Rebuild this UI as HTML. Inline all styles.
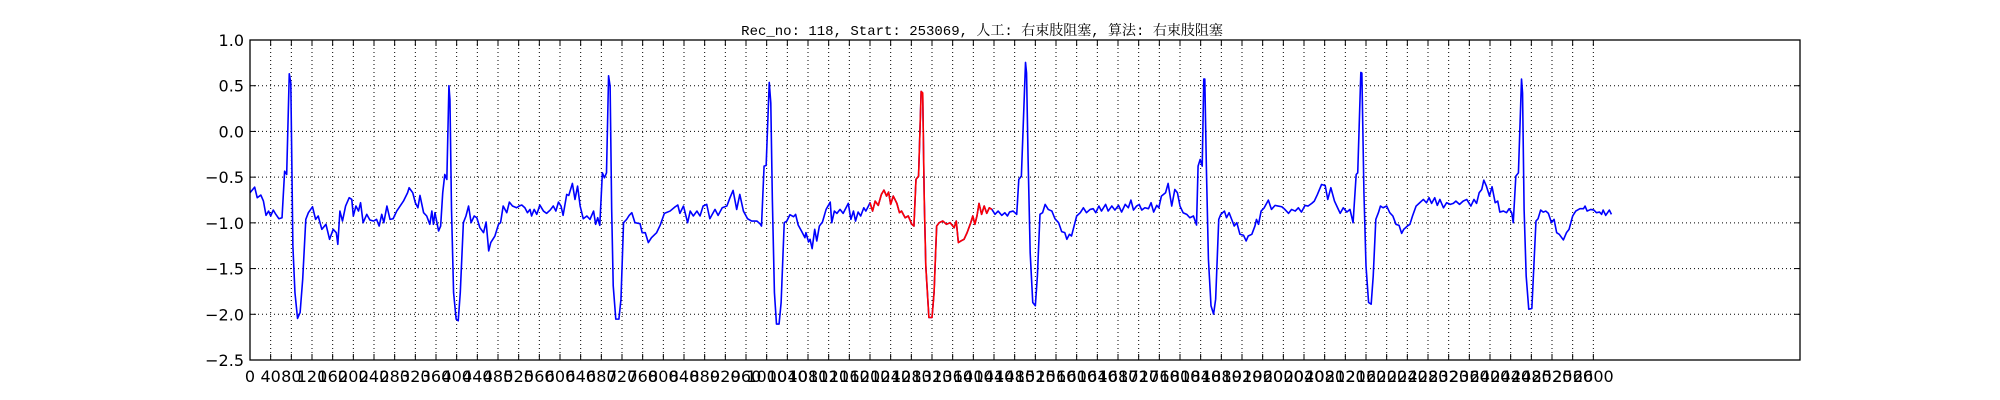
<!DOCTYPE html>
<html><head><meta charset="utf-8">
<style>
html,body{margin:0;padding:0;background:#fff;}
svg{display:block;}
</style></head>
<body>
<svg id="chart" width="2000" height="400" xmlns="http://www.w3.org/2000/svg">
<rect x="0" y="0" width="2000" height="400" fill="#fff"/>
<text x="982" y="35" text-anchor="middle" font-family="'Liberation Mono','Noto Serif CJK SC',monospace" font-size="14" fill="#000">Rec_no: 118, Start: 253069, 人工: 右束肢阻塞, 算法: 右束肢阻塞</text>
<g id="grid"></g>
<g id="series"></g>
<rect x="250" y="40" width="1550" height="320" fill="none" stroke="#000" stroke-width="1.3"/>
<g id="axes"></g>
</svg>
<script>
const sampleIdx = [0,9,14,21,26,31,36,40,45,50,56,62,67,71,76,79,83,87,92,97,102,108,113,121,127,132,139,147,154,161,167,170,174,179,185,192,197,200,205,210,214,219,226,232,239,245,250,255,259,265,271,277,284,297,305,308,315,320,325,329,336,342,348,352,355,358,365,369,373,377,381,385,387,390,394,399,403,407,413,418,423,428,434,439,445,452,457,462,466,474,481,485,490,497,502,508,516,521,526,532,537,542,545,550,555,561,568,574,581,587,592,597,602,606,613,617,624,629,634,639,645,652,658,665,669,673,677,682,686,690,694,697,700,703,708,714,718,723,729,734,739,745,755,759,765,771,777,787,794,802,813,823,828,832,839,847,852,858,865,871,877,884,890,900,906,914,923,929,935,942,948,955,963,971,981,987,990,995,999,1005,1008,1011,1015,1019,1024,1028,1034,1039,1045,1052,1056,1061,1068,1074,1076,1081,1084,1088,1093,1097,1102,1108,1115,1123,1126,1131,1136,1142,1148,1158,1163,1168,1172,1177,1182,1188,1192,1197,1200,1205,1210,1216,1222,1227,1232,1236,1240,1245,1252,1257,1261,1268,1274,1281,1285,1289,1294,1299,1302,1305,1308,1314,1320,1324,1329,1334,1341,1348,1355,1363,1367,1371,1376,1382,1388,1395,1399,1403,1407,1411,1416,1421,1426,1431,1436,1442,1448,1455,1461,1466,1470,1477,1484,1488,1493,1501,1503,1506,1510,1515,1520,1524,1529,1534,1539,1545,1552,1558,1565,1571,1577,1581,1586,1590,1595,1600,1607,1613,1619,1626,1632,1637,1643,1648,1656,1661,1668,1674,1681,1687,1694,1700,1705,1710,1716,1721,1726,1732,1739,1744,1749,1755,1759,1764,1772,1777,1784,1790,1795,1800,1806,1813,1819,1826,1832,1835,1839,1843,1846,1848,1851,1855,1860,1865,1869,1875,1879,1886,1890,1895,1900,1905,1910,1916,1923,1928,1932,1939,1945,1948,1952,1957,1963,1971,1977,1984,1990,1997,2003,2010,2016,2023,2029,2035,2042,2048,2055,2060,2066,2074,2081,2086,2092,2099,2105,2110,2116,2123,2129,2135,2141,2144,2150,2152,2156,2160,2165,2170,2174,2179,2184,2188,2193,2200,2206,2212,2218,2224,2229,2233,2240,2245,2250,2257,2264,2271,2277,2282,2287,2293,2298,2303,2310,2316,2323,2329,2334,2341,2348,2355,2363,2369,2374,2379,2384,2388,2393,2399,2404,2410,2415,2419,2426,2432,2437,2442,2445,2450,2455,2461,2463,2466,2470,2475,2481,2484,2489,2493,2498,2503,2508,2513,2519,2524,2529,2534,2542,2548,2553,2560,2566,2574,2581,2584,2588,2595,2601,2606,2612,2616,2619,2624,2631,2635];
const sampleVal = [-0.671,-0.609,-0.725,-0.696,-0.762,-0.918,-0.871,-0.925,-0.86,-0.907,-0.955,-0.944,-0.435,-0.471,0.631,0.529,-1.253,-1.762,-2.045,-1.98,-1.616,-0.962,-0.889,-0.824,-0.962,-0.925,-1.071,-1.016,-1.18,-1.071,-1.107,-1.235,-0.871,-0.98,-0.816,-0.725,-0.744,-0.925,-0.816,-0.871,-0.78,-0.998,-0.907,-0.969,-0.98,-0.962,-1.035,-0.907,-0.998,-0.816,-0.962,-0.955,-0.871,-0.762,-0.671,-0.616,-0.671,-0.78,-0.835,-0.7,-0.889,-0.925,-1.016,-0.871,-1.016,-0.889,-1.089,-1.035,-0.671,-0.471,-0.525,0.5,0.347,-0.853,-1.762,-2.053,-2.071,-1.762,-0.998,-0.925,-0.816,-0.998,-0.925,-0.944,-1.053,-1.107,-0.991,-1.307,-1.216,-1.144,-1.016,-0.998,-0.816,-0.889,-0.773,-0.816,-0.835,-0.816,-0.805,-0.835,-0.889,-0.853,-0.925,-0.853,-0.907,-0.805,-0.871,-0.896,-0.86,-0.816,-0.871,-0.773,-0.816,-0.918,-0.689,-0.7,-0.569,-0.744,-0.598,-0.816,-0.955,-0.925,-0.962,-0.871,-1.016,-0.944,-1.027,-0.453,-0.507,-0.453,0.609,0.493,-0.853,-1.689,-2.053,-2.053,-1.835,-0.998,-0.962,-0.918,-0.889,-0.998,-1.009,-1.107,-1.107,-1.216,-1.162,-1.107,-1.024,-0.896,-0.871,-0.824,-0.805,-0.896,-0.816,-0.998,-0.871,-0.925,-0.871,-0.925,-0.816,-0.798,-0.955,-0.853,-0.918,-0.835,-0.816,-0.725,-0.645,-0.853,-0.689,-0.871,-0.955,-0.98,-0.98,-1.009,-1.035,-0.38,-0.373,0.536,0.311,-0.744,-1.762,-2.107,-2.107,-1.871,-0.998,-0.98,-0.911,-0.933,-0.907,-1.024,-1.096,-1.162,-1.107,-1.209,-1.18,-1.282,-1.071,-1.198,-1.035,-0.991,-0.853,-0.773,-0.998,-0.871,-0.896,-0.853,-0.896,-0.787,-0.962,-0.871,-0.98,-0.882,-0.925,-0.835,-0.871,-0.816,-0.78,-0.871,-0.762,-0.809,-0.689,-0.642,-0.707,-0.664,-0.798,-0.707,-0.787,-0.889,-0.871,-0.944,-0.925,-1.016,-1.035,-0.525,-0.489,0.438,0.42,-0.744,-1.471,-2.035,-2.035,-1.762,-1.035,-0.998,-0.98,-1.016,-0.998,-1.053,-0.98,-1.216,-1.198,-1.18,-1.107,-0.998,-0.925,-1.016,-0.925,-0.787,-0.907,-0.816,-0.896,-0.835,-0.853,-0.907,-0.871,-0.918,-0.889,-0.925,-0.882,-0.871,-0.907,-0.525,-0.489,0.755,0.638,-0.307,-1.325,-1.871,-1.907,-1.58,-0.907,-0.889,-0.798,-0.853,-0.871,-0.955,-0.998,-1.096,-1.107,-1.18,-1.125,-1.144,-1.035,-0.925,-0.889,-0.835,-0.889,-0.853,-0.845,-0.889,-0.816,-0.871,-0.798,-0.871,-0.816,-0.86,-0.809,-0.882,-0.798,-0.835,-0.751,-0.86,-0.816,-0.798,-0.86,-0.835,-0.845,-0.78,-0.882,-0.809,-0.835,-0.707,-0.671,-0.569,-0.816,-0.635,-0.671,-0.816,-0.889,-0.907,-0.944,-0.925,-1.024,-0.38,-0.307,-0.38,0.573,0.573,-0.38,-1.398,-1.907,-1.998,-1.835,-0.962,-0.907,-0.871,-0.944,-0.889,-0.962,-1.035,-0.998,-1.125,-1.136,-1.198,-1.144,-1.125,-1.035,-0.962,-1.016,-0.871,-0.835,-0.751,-0.853,-0.809,-0.816,-0.824,-0.853,-0.896,-0.853,-0.871,-0.835,-0.882,-0.809,-0.816,-0.787,-0.762,-0.689,-0.58,-0.591,-0.744,-0.616,-0.762,-0.835,-0.896,-0.835,-0.882,-0.853,-0.998,-0.471,-0.453,0.645,0.638,-0.671,-1.471,-1.871,-1.889,-1.58,-0.962,-0.889,-0.816,-0.835,-0.816,-0.889,-0.925,-1.016,-1.027,-1.115,-1.071,-1.035,-1.016,-0.925,-0.816,-0.78,-0.744,-0.78,-0.725,-0.787,-0.725,-0.809,-0.744,-0.835,-0.78,-0.798,-0.787,-0.762,-0.798,-0.762,-0.744,-0.816,-0.744,-0.787,-0.671,-0.635,-0.533,-0.598,-0.707,-0.605,-0.78,-0.762,-0.882,-0.871,-0.889,-0.845,-0.889,-0.998,-0.489,-0.453,0.573,0.42,-0.853,-1.58,-1.944,-1.936,-1.58,-0.98,-0.955,-0.86,-0.882,-0.871,-0.896,-0.998,-0.962,-1.107,-1.125,-1.187,-1.107,-1.071,-0.925,-0.871,-0.845,-0.845,-0.816,-0.871,-0.853,-0.86,-0.889,-0.882,-0.907,-0.86,-0.918,-0.86,-0.907];
const highlightRange = [1200, 1436];
const yTicks = [1.0, 0.5, 0.0, -0.5, -1.0, -1.5, -2.0, -2.5];
const xTickStart = 0, xTickEnd = 2600, xTickStep = 40;

const X0 = 250, X1 = 1800, Y0 = 40, Y1 = 360;
const xMin = 0, xMax = 3000, yMin = -2.5, yMax = 1.0;
const xs = v => X0 + (v - xMin) / (xMax - xMin) * (X1 - X0);
const ys = v => Y1 - (v - yMin) / (yMax - yMin) * (Y1 - Y0);
const NS = 'http://www.w3.org/2000/svg';
const grid = document.getElementById('grid');
const axes = document.getElementById('axes');
const series = document.getElementById('series');
function mk(tag, attrs, parent){const e=document.createElementNS(NS,tag);for(const k in attrs)e.setAttribute(k,attrs[k]);parent.appendChild(e);return e;}

yTicks.forEach(t => {
  const y = ys(t);
  if (t > yMin && t < yMax) {
    const g = mk('line',{x1:X0,x2:X1,y1:y,y2:y,stroke:'#000','stroke-width':1,'stroke-dasharray':'1,3'},grid);
    
    
  }
  const tl = mk('line',{x1:X0,x2:X0+6,y1:y,y2:y,stroke:'#000','stroke-width':1},axes);
  
  
  const tr = mk('line',{x1:X1-6,x2:X1,y1:y,y2:y,stroke:'#000','stroke-width':1},axes);
  
  
  const lab = mk('text',{x:X0-6,y:y+6,'text-anchor':'end','font-family':"'DejaVu Sans','Liberation Sans',sans-serif",'font-size':16,fill:'#000'},axes);
  lab.textContent = t.toFixed(1).replace('-', '\u2212');
  
  
});

for (let t = xTickStart; t <= xTickEnd; t += xTickStep) {
  const x = xs(t);
  if (t > xMin) {
    const g = mk('line',{x1:x,x2:x,y1:Y0,y2:Y1,stroke:'#000','stroke-width':1,'stroke-dasharray':'1,3'},grid);
    
    
  }
  const tb = mk('line',{x1:x,x2:x,y1:Y1,y2:Y1-6,stroke:'#000','stroke-width':1},axes);
  
  
  const tt = mk('line',{x1:x,x2:x,y1:Y0,y2:Y0+6,stroke:'#000','stroke-width':1},axes);
  
  
  const lab = mk('text',{x:x,y:Y1+22,'text-anchor':'middle','font-family':"'DejaVu Sans','Liberation Sans',sans-serif",'font-size':16,fill:'#000'},axes);
  lab.textContent = String(t);
  
  
}

const allPts = sampleIdx.map((s,i)=>xs(s).toFixed(2)+','+ys(sampleVal[i]).toFixed(2)).join(' ');
const blue = mk('polyline',{points:allPts,fill:'none',stroke:'#0000ff','stroke-width':1.6,'stroke-linejoin':'round'},series);


const redPts = [];
sampleIdx.forEach((s,i)=>{ if (s >= highlightRange[0] && s <= highlightRange[1]) redPts.push(xs(s).toFixed(2)+','+ys(sampleVal[i]).toFixed(2)); });
const red = mk('polyline',{points:redPts.join(' '),fill:'none',stroke:'#ff0000','stroke-width':1.6,'stroke-linejoin':'round'},series);


</script>
</body></html>
